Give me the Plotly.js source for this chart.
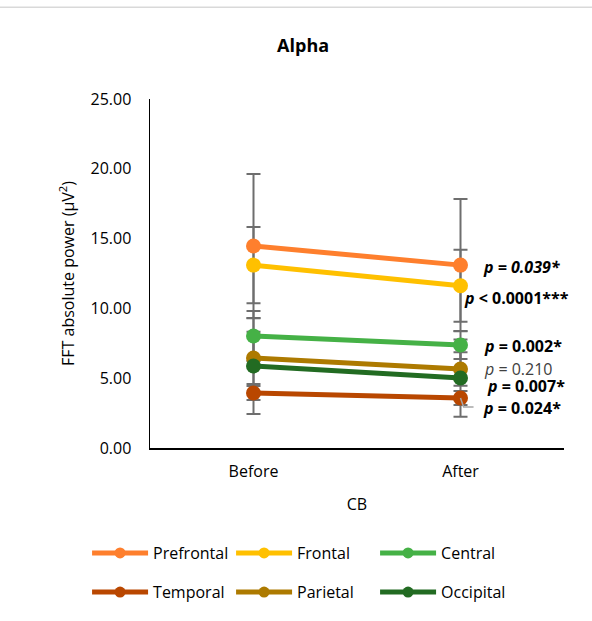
<!DOCTYPE html>
<html>
<head>
<meta charset="utf-8">
<script src="https://cdn.plot.ly/plotly-3.0.1.min.js"></script>
<style>html,body{margin:0;padding:0;background:#fff;}#chart{width:592px;height:621px;}</style>
</head>
<body>
<div id="chart"></div>
<script>
var categories = ['Before', 'After'];
var regions = ['Prefrontal', 'Frontal', 'Central', 'Temporal', 'Parietal', 'Occipital'];
var prefrontal = [14.47, 13.10];
var frontal = [13.10, 11.62];
var central = [8.02, 7.38];
var temporal = [3.94, 3.58];
var parietal = [6.45, 5.66];
var occipital = [5.87, 5.01];
var prefrontalSD = [5.16, 4.74];
var frontalSD = [2.73, 2.58];
var centralSD = [1.79, 1.00];
var temporalSD = [0.50, 0.50];
var parietalSD = [1.87, 1.20];
var occipitalSD = [3.43, 2.77];
var pLabels = ['<b><i>p = 0.039*</i></b>', '<b><i>p</i> &lt; 0.0001***</b>', '<b><i>p</i> = 0.002*</b>',
               '<i>p</i> = 0.210', '<b><i>p</i> = 0.007*</b>', '<b><i>p</i> = 0.024*</b>'];
var pY = [12.97, 10.75, 7.31, 5.68, 4.47, 2.87];
var pX = [1.106, 1.012, 1.111, 1.111, 1.121, 1.106];

var values = [prefrontal, frontal, central, temporal, parietal, occipital];
var sds = [prefrontalSD, frontalSD, centralSD, temporalSD, parietalSD, occipitalSD];
var colors = ['#FE7F2D', '#FFC000', '#45B146', '#B94700', '#AD7A00', '#226B22'];
var FONT = 'Open Sans, sans-serif';

var traces = [];
// error bars first (drawn behind everything)
for (var i = 0; i < regions.length; i++) {
  traces.push({
    x: categories, y: values[i], type: 'scatter', mode: 'markers',
    marker: {size: 1, opacity: 0}, showlegend: false, hoverinfo: 'skip',
    error_y: {type: 'data', array: sds[i], visible: true, color: '#6E6E6E', thickness: 2, width: 7}
  });
}
for (var i = 0; i < regions.length; i++) {
  traces.push({
    x: categories, y: values[i], type: 'scatter', mode: 'lines+markers', name: regions[i],
    line: {color: colors[i], width: 5},
    marker: {color: colors[i], size: 15},
    showlegend: false
  });
}
// legend entries (smaller symbols, like the reference)
for (var i = 0; i < regions.length; i++) {
  traces.push({
    x: [categories[0]], y: [null], type: 'scatter', mode: 'lines+markers', name: regions[i],
    line: {color: colors[i], width: 5},
    marker: {color: colors[i], size: 11},
    legend: i < 3 ? 'legend' : 'legend2'
  });
}

var annotations = [];
for (var j = 0; j < pLabels.length; j++) {
  annotations.push({
    x: pX[j], y: pY[j], xref: 'x', yref: 'y', xanchor: 'left', yanchor: 'middle',
    text: pLabels[j], showarrow: false, borderpad: 0,
    font: {family: FONT, size: 16, color: j === 3 ? '#404040' : '#000000'}
  });
}

var legendCommon = {
  orientation: 'h', xanchor: 'left', yanchor: 'middle', entrywidth: 73, itemwidth: 56,
  font: {family: FONT, size: 16, color: '#000'}, bgcolor: 'rgba(0,0,0,0)', traceorder: 'normal'
};

var layout = {
  width: 592, height: 621,
  margin: {l: 150, r: 28, t: 99, b: 173, autoexpand: false},
  paper_bgcolor: '#fff', plot_bgcolor: '#fff',
  showlegend: true,
  title: {text: '<b>Alpha</b>', x: 0.512, xanchor: 'center', y: 0.927, yanchor: 'middle',
          font: {family: FONT, size: 18, color: '#000'}},
  xaxis: {
    type: 'category', range: [-0.5, 1.5], showgrid: false, zeroline: false,
    showline: true, linecolor: '#000', linewidth: 1.5, ticks: '', ticklabelstandoff: 8,
    tickfont: {family: FONT, size: 16, color: '#000'},
    title: {text: 'CB', font: {family: FONT, size: 16, color: '#000'}, standoff: 18}
  },
  yaxis: {
    range: [0, 25], dtick: 5, tickformat: '.2f', showgrid: false, zeroline: false,
    showline: true, linecolor: '#000', linewidth: 1.5, ticks: '', ticklabelstandoff: 14,
    tickfont: {family: FONT, size: 16, color: '#000'},
    title: {text: 'FFT absolute power (μV<sup>2</sup>)', font: {family: FONT, size: 16, color: '#000'}, standoff: 12}
  },
  legend: Object.assign({x: -0.152, y: -0.301}, legendCommon),
  legend2: Object.assign({x: -0.152, y: -0.413}, legendCommon),
  annotations: annotations,
  shapes: [
    {type: 'path', xref: 'x', yref: 'y', path: 'M 1,3.58 L 1.015,2.94 L 1.063,2.94',
     line: {color: '#A6A6A6', width: 1.5}},
    {type: 'line', xref: 'paper', yref: 'paper', x0: -0.4, x1: 1.1, y0: 1.263, y1: 1.263,
     line: {color: '#D9D9D9', width: 1.5}}
  ]
};

Plotly.newPlot('chart', traces, layout, {displayModeBar: false, staticPlot: true});
</script>
</body>
</html>
